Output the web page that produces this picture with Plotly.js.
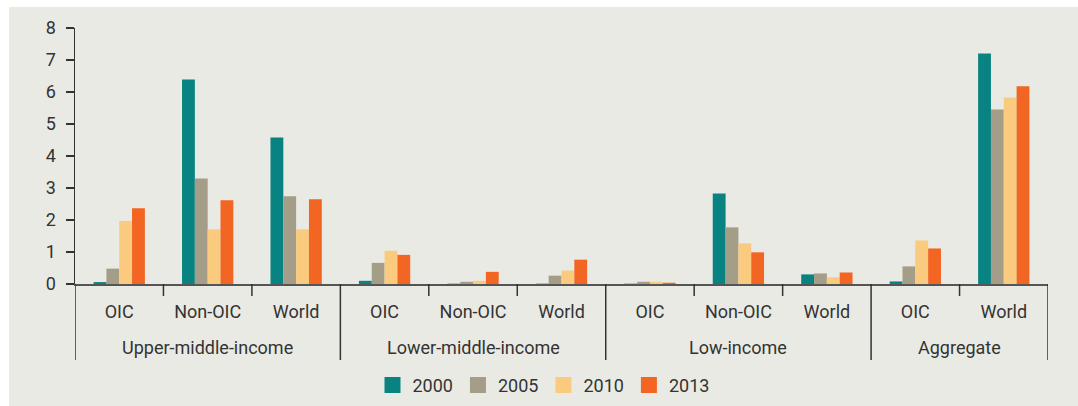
<!DOCTYPE html>
<html>
<head>
<meta charset="utf-8">
<script src="https://cdn.plot.ly/plotly-3.0.1.min.js"></script>
<style>
  html, body { margin: 0; padding: 0; background: #ffffff; }
  #wrap { width: 1078px; height: 406px; box-sizing: border-box; padding: 7px 0 0 9px; background: #ffffff; overflow: hidden; }
  #chart { width: 1069px; height: 399px; }
</style>
</head>
<body>
<div id="wrap"><div id="chart"></div></div>
<script>
const groups = ['Upper-middle-income','Upper-middle-income','Upper-middle-income',
                'Lower-middle-income','Lower-middle-income','Lower-middle-income',
                'Low-income','Low-income','Low-income',
                'Aggregate','Aggregate'];
const categories = ['OIC','Non-OIC','World','OIC','Non-OIC','World','OIC','Non-OIC','World','OIC','World'];
const years = ['2000','2005','2010','2013'];
const v2000 = [0.06, 6.39, 4.58, 0.10, 0.01, 0.01, 0.01, 2.83, 0.30, 0.08, 7.20];
const v2005 = [0.48, 3.30, 2.74, 0.66, 0.07, 0.26, 0.07, 1.77, 0.33, 0.55, 5.45];
const v2010 = [1.97, 1.71, 1.71, 1.04, 0.10, 0.42, 0.07, 1.27, 0.21, 1.36, 5.83];
const v2013 = [2.37, 2.62, 2.65, 0.91, 0.38, 0.76, 0.04, 0.99, 0.36, 1.11, 6.18];
const yTicks = [0, 1, 2, 3, 4, 5, 6, 7, 8];
const colors = ['#088381','#A49E89','#FACB7E','#F26522'];
const series = [v2000, v2005, v2010, v2013];

const FONT = "Roboto, 'DejaVu Sans Condensed', sans-serif";
const TXT = '#333333';
const idx = categories.map((c, i) => i);

const traces = series.map((vals, i) => ({
  type: 'bar',
  name: years[i],
  x: idx,
  y: vals,
  marker: { color: colors[i], line: { width: 0 } },
  hoverinfo: 'skip'
}));

// group spans derived from the groups array
const spans = [];
groups.forEach((g, i) => {
  if (!spans.length || spans[spans.length - 1].name !== g) spans.push({ name: g, start: i, end: i });
  else spans[spans.length - 1].end = i;
});

const shapes = [];
const annotations = [];
spans.forEach((s) => {
  shapes.push({ type: 'line', xref: 'x', yref: 'paper', x0: s.start - 0.5, x1: s.start - 0.5,
                y0: 0, y1: -76 / 256, line: { color: '#333333', width: 1.5 } });
  for (let i = s.start + 1; i <= s.end; i++) {
    shapes.push({ type: 'line', xref: 'x', yref: 'paper', x0: i - 0.5, x1: i - 0.5,
                  y0: 0, y1: -12 / 256, line: { color: '#333333', width: 1.5 } });
  }
  annotations.push({ xref: 'x', yref: 'paper', x: (s.start + s.end) / 2, y: -63 / 256,
                     xanchor: 'center', yanchor: 'middle', showarrow: false, text: s.name,
                     font: { family: FONT, size: 18, color: TXT } });
});
const last = spans[spans.length - 1];
shapes.push({ type: 'line', xref: 'x', yref: 'paper', x0: last.end + 0.5, x1: last.end + 0.5,
              y0: 0, y1: -76 / 256, line: { color: '#333333', width: 1.5 } });

const layout = {
  width: 1069, height: 399,
  margin: { l: 66, r: 30, t: 21, b: 122 },
  paper_bgcolor: '#EAEAE4',
  plot_bgcolor: 'rgba(0,0,0,0)',
  font: { family: FONT, size: 18, color: TXT },
  barmode: 'group',
  bargap: 0.42,
  bargroupgap: 0,
  showlegend: true,
  legend: {
    orientation: 'h', xref: 'container', yref: 'container',
    x: 0.5, xanchor: 'center', y: 0.052, yanchor: 'middle',
    font: { family: FONT, size: 18, color: TXT },
    bgcolor: 'rgba(0,0,0,0)', traceorder: 'normal', itemwidth: 30
  },
  shapes: shapes,
  annotations: annotations,
  xaxis: {
    type: 'linear', range: [-0.5, categories.length - 0.5],
    tickmode: 'array', tickvals: idx, ticktext: categories,
    ticks: '', ticklabelstandoff: 11,
    showline: true, linecolor: '#555555', linewidth: 1.5,
    showgrid: false, zeroline: false,
    tickfont: { family: FONT, size: 18, color: TXT }
  },
  yaxis: {
    range: [0, 8], tickmode: 'array', tickvals: yTicks,
    showline: true, linecolor: '#333333', linewidth: 1.5,
    ticks: 'outside', ticklen: 8, tickcolor: '#333333', tickwidth: 1.5,
    ticklabelstandoff: 6,
    showgrid: false, zeroline: false,
    tickfont: { family: FONT, size: 18, color: TXT }
  }
};

Plotly.newPlot('chart', traces, layout, { staticPlot: true, displayModeBar: false }).then(function () {
  // enlarge the legend swatches to match the reference's bigger squares
  document.querySelectorAll('#chart .legendpoints path').forEach(function (p) {
    p.setAttribute('d', 'M8,8H-8V-8H8Z');
  });
});
</script>
</body>
</html>
